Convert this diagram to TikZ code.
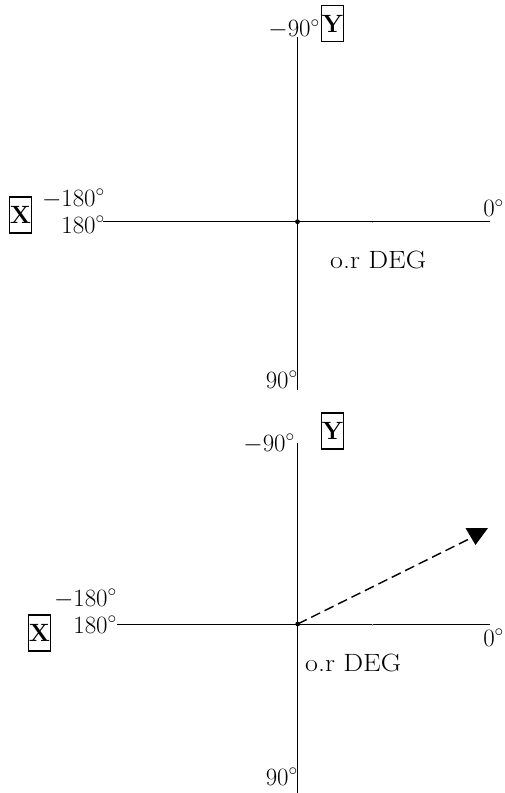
\documentclass[tikz,border=0pt]{standalone}
\usepackage{tikz}
\usetikzlibrary{positioning}

\begin{document}
\begin{tikzpicture}[
  x=1pt, y=-1pt,
  axis/.style={draw=black, line width=1pt},
  deg/.style={font=\fontsize{23}{27}\selectfont, inner sep=0pt, anchor=base east},
  caption/.style={font=\fontsize{25}{29}\selectfont, inner sep=0pt, anchor=base west},
  letterbox/.style={
    draw, line width=1.1pt, inner sep=0pt,
    minimum width=22pt, minimum height=36pt,
    font=\fontsize{25}{29}\selectfont\bfseries
  },
  tick/.style={draw=black!35, line width=0.6pt},
  vec/.style={draw, dashed, dash pattern=on 10pt off 5pt, line width=1.4pt}
]
\useasboundingbox (0,0) rectangle (504,793);

% ---- top panel -------------------------------------------------------------
\coordinate (o1) at (297.5,221.7);
\coordinate (t1) at (297.5,37);
\coordinate (b1) at (297.5,390);
\coordinate (l1) at (103,221.7);
\coordinate (r1) at (490,221.7);

\draw[axis] (t1) -- (b1);
\draw[axis] (l1) -- (r1);
\draw[tick] (372,221.7) -- (372,223.2);
\fill (o1) circle (2.4pt);

\node[deg] (n90a) at (320,36.7) {$-90^\circ$};
\node[letterbox] (ya) at (332.5,23.5) {Y};
\node[deg] (zeroa) at (504,216.7) {$0^\circ$};
\node[deg] (m180a) at (105,206) {$-180^\circ$};
\node[deg] (p180a) at (105,233) {$180^\circ$};
\node[letterbox] (xa) at (20.5,215) {X};
\node[caption] (capa) at (330,268) {\scalebox{1.12}[1]{o.r DEG}};
\node[deg] (p90a) at (298,388) {$90^\circ$};

% ---- bottom panel ----------------------------------------------------------
\coordinate (o2) at (297.7,624);
\coordinate (t2) at (297.7,443);
\coordinate (b2) at (297.7,793);
\coordinate (l2) at (117,624);
\coordinate (r2) at (490,624);
\coordinate (e2) at (469,539);
\coordinate (h2) at (475.5,545);

\draw[axis] (t2) -- (b2);
\draw[axis] (l2) -- (r2);
\draw[tick] (372.7,624) -- (372.7,625.5);
\fill (o2) circle (2.4pt);

\draw[vec] (o2) -- (e2);
\fill (h2) -- ++(-10,-17) -- ++(22.5,0) -- cycle;

\node[deg] (n90b) at (295,451) {$-90^\circ$};
\node[letterbox] (yb) at (332.5,431) {Y};
\node[deg] (zerob) at (504,646) {$0^\circ$};
\node[deg] (m180b) at (117,606) {$-180^\circ$};
\node[deg] (p180b) at (117,633) {$180^\circ$};
\node[letterbox] (xb) at (39.5,633) {X};
\node[caption] (capb) at (305,671) {\scalebox{1.12}[1]{o.r DEG}};
\node[deg] (p90b) at (298,785) {$90^\circ$};

\end{tikzpicture}
\end{document}
